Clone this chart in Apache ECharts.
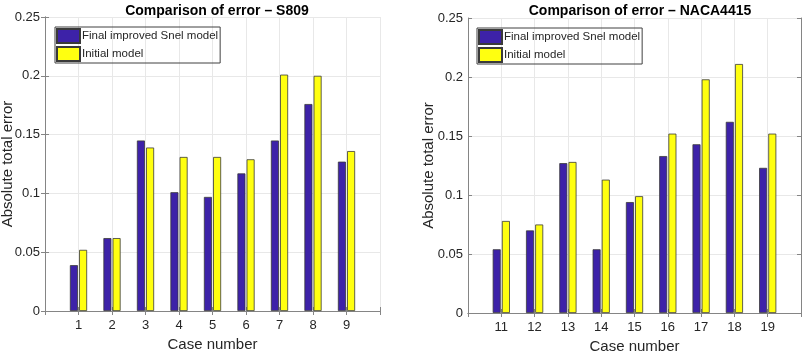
<!DOCTYPE html>
<html>
<head>
<meta charset="utf-8">
<script src="https://cdn.jsdelivr.net/npm/echarts@6/dist/echarts.min.js"></script>
<style>
html,body{margin:0;padding:0;background:#fff;}
#c{width:806px;height:351px;}
</style>
</head>
<body>
<div id="c"></div>
<script>
// Data
const casesS809 = [1, 2, 3, 4, 5, 6, 7, 8, 9];
const finalS809 = [0.039, 0.062, 0.145, 0.101, 0.097, 0.117, 0.145, 0.176, 0.127];
const initialS809 = [0.052, 0.062, 0.139, 0.131, 0.131, 0.129, 0.201, 0.200, 0.136];
const casesNACA = [11, 12, 13, 14, 15, 16, 17, 18, 19];
const finalNACA = [0.054, 0.070, 0.127, 0.054, 0.094, 0.133, 0.143, 0.162, 0.123];
const initialNACA = [0.078, 0.075, 0.128, 0.113, 0.099, 0.152, 0.198, 0.211, 0.152];
const yTicks = [0, 0.05, 0.1, 0.15, 0.2, 0.25];
const titles = ['Comparison of error \u2013 S809', 'Comparison of error \u2013 NACA4415'];
const seriesNames = ['Final improved Snel model', 'Initial model'];
const xAxisName = 'Case number';
const yAxisName = 'Absolute total error';

const FONT = 'Liberation Sans, Arial, sans-serif';
const BLUE = '#3d22a8';
const YELLOW = '#ffff10';
const TXT = '#262626';
const AXC = '#858585';
const GRIDC = '#e8e8e8';

const chart = echarts.init(document.getElementById('c'));

const grids = [
  {left: 45, right: 426, top: 17, bottom: 40, outerBoundsMode: 'none', containLabel: false},
  {left: 468, right: 5, top: 18, bottom: 38, outerBoundsMode: 'none', containLabel: false}
];
const xRanges = [[0, 10, casesS809], [10, 20, casesNACA]];

const xAxes = [], yAxes = [], series = [], legends = [], titleArr = [];
grids.forEach((g, i) => {
  const [mn, mx, cats] = xRanges[i];
  xAxes.push({
    type: 'value', gridIndex: i, min: mn, max: mx, interval: 1,
    name: xAxisName, nameLocation: 'middle', nameGap: 26, nameMoveOverlap: false,
    nameTextStyle: {fontFamily: FONT, fontSize: 15, color: TXT},
    axisLine: {show: true, lineStyle: {color: AXC}},
    axisTick: {show: true, inside: true, length: 4, lineStyle: {color: AXC}},
    axisLabel: {fontFamily: FONT, fontSize: 13, color: TXT, margin: 8,
      formatter: v => cats.indexOf(Math.round(v)) >= 0 ? String(Math.round(v)) : ''},
    splitLine: {show: true, lineStyle: {color: GRIDC}}
  });
  xAxes.push({
    type: 'value', gridIndex: i, min: mn, max: mx, interval: 1, position: 'top',
    axisLine: {show: true, lineStyle: {color: AXC}},
    axisTick: {show: true, inside: true, length: 4, lineStyle: {color: AXC}},
    axisLabel: {show: false}, splitLine: {show: false}
  });
  yAxes.push({
    type: 'value', gridIndex: i, min: yTicks[0], max: yTicks[yTicks.length - 1], interval: yTicks[1] - yTicks[0],
    name: yAxisName, nameLocation: 'middle', nameGap: i === 0 ? 30 : 32, nameMoveOverlap: false,
    nameTextStyle: {fontFamily: FONT, fontSize: 15, color: TXT},
    axisLine: {show: true, lineStyle: {color: AXC}},
    axisTick: {show: true, inside: true, length: 4, lineStyle: {color: AXC}},
    axisLabel: {fontFamily: FONT, fontSize: 13, color: TXT, margin: 5},
    splitLine: {show: true, lineStyle: {color: GRIDC}}
  });
  yAxes.push({
    type: 'value', gridIndex: i, min: yTicks[0], max: yTicks[yTicks.length - 1], interval: yTicks[1] - yTicks[0], position: 'right',
    axisLine: {show: true, lineStyle: {color: AXC}},
    axisTick: {show: true, inside: true, length: 4, lineStyle: {color: AXC}},
    axisLabel: {show: false}, splitLine: {show: false}
  });
  const fin = i === 0 ? finalS809 : finalNACA;
  const ini = i === 0 ? initialS809 : initialNACA;
  series.push({
    type: 'bar', name: seriesNames[0], xAxisIndex: i * 2, yAxisIndex: i * 2,
    data: cats.map((c, k) => [c, fin[k]]), barWidth: 8, barGap: '15%',
    itemStyle: {color: BLUE, borderColor: '#3a3a3a', borderWidth: 0.8}
  });
  series.push({
    type: 'bar', name: seriesNames[1], xAxisIndex: i * 2, yAxisIndex: i * 2,
    data: cats.map((c, k) => [c, ini[k]]), barWidth: 8, barGap: '15%',
    itemStyle: {color: YELLOW, borderColor: '#3a3a3a', borderWidth: 0.8}
  });
  legends.push({
    data: seriesNames, orient: 'vertical', left: i === 0 ? 55 : 477, top: i === 0 ? 27 : 28,
    borderColor: '#404040', borderWidth: 1, padding: [1, 2, 1, 1], itemGap: 2,
    itemWidth: 23, itemHeight: 14, icon: 'rect', selectedMode: false,
    textStyle: {fontFamily: FONT, fontSize: 11.5, color: TXT, padding: [0, 0, 0, -3]}
  });
  titleArr.push({
    text: titles[i], left: i === 0 ? 212 : 635, top: -1, textAlign: 'center',
    textStyle: {fontFamily: FONT, fontSize: 14, fontWeight: 'bold', color: '#000'}
  });
});

chart.setOption({
  animation: false,
  backgroundColor: '#fff',
  title: titleArr,
  legend: legends,
  grid: grids,
  xAxis: xAxes,
  yAxis: yAxes,
  series: series
});
</script>
</body>
</html>
